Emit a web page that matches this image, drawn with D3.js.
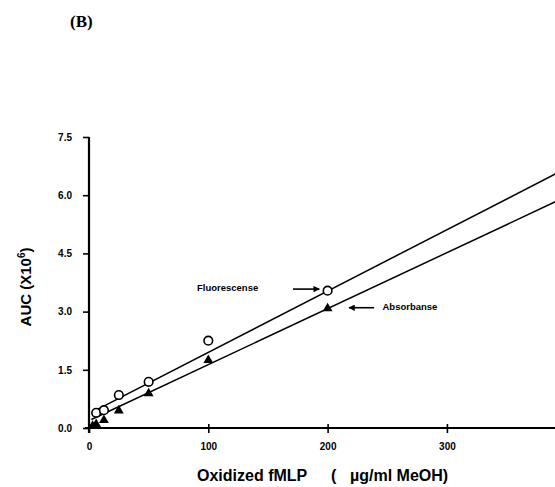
<!DOCTYPE html>
<html>
<head>
<meta charset="utf-8">
<script src="https://cdn.jsdelivr.net/npm/d3@7"></script>
<style>
  body { margin: 0; background: #fff; }
  text { font-family: Arial, "Liberation Sans", sans-serif; font-weight: bold; fill: #000; }
</style>
</head>
<body>
<div id="canvas"></div>
<script>
// concentrations (ug/ml MeOH)
const fluorX = [6, 12.5, 25, 50, 100, 200]
const fluorY = [0.39, 0.46, 0.85, 1.19, 2.25, 3.54]
const absorbX = [3, 6, 12.5, 25, 50, 100, 200]
const absorbY = [0.05, 0.1, 0.2, 0.45, 0.89, 1.75, 3.08]
// fitted lines: [slope, intercept, startX]
const fluorFit = [0.0158, 0.37, 3]
const absorbFit = [0.01443, 0.19, 2]
const yTicks = [0, 1.5, 3.0, 4.5, 6.0, 7.5]
const xTicks = [0, 100, 200, 300]

const canvasWidth = 555
const canvasHeight = 487
const margin = {top: 137, right: 0, bottom: 59, left: 89}
const width = canvasWidth - margin.left - margin.right
const height = canvasHeight - margin.top - margin.bottom

const svg = d3.select("#canvas")
    .append("svg")
    .attr("width", canvasWidth)
    .attr("height", canvasHeight)

svg.append("text")
    .attr("x", 70).attr("y", 27)
    .style("font-family", "'Liberation Serif', 'Times New Roman', serif")
    .style("font-size", "17px")
    .text("(B)")

const g = svg.append("g")
    .attr("transform", "translate(" + margin.left + "," + margin.top + ")")

const x = d3.scaleLinear().domain([0, 390.6]).range([0, width])
const y = d3.scaleLinear().domain([0, 7.5]).range([height, 0])

// clip for lines running off the right edge
g.append("clipPath").attr("id", "clip")
    .append("rect").attr("x", 0).attr("y", -20).attr("width", width).attr("height", height + 20)

const line = d3.line().x(d => x(d[0])).y(d => y(d[1]))
const fits = [fluorFit, absorbFit]
fits.forEach(f => {
    const pts = [[f[2], f[1] + f[0] * f[2]], [420, f[1] + f[0] * 420]]
    g.append("path")
        .attr("d", line(pts))
        .attr("clip-path", "url(#clip)")
        .attr("fill", "none")
        .attr("stroke", "#000")
        .attr("stroke-width", 1.5)
})

// axes
const xAxis = g.append("g")
    .attr("transform", "translate(0," + height + ")")
    .call(d3.axisBottom(x).tickValues(xTicks).tickSize(5).tickFormat(d3.format("d")))
const yAxis = g.append("g")
    .call(d3.axisLeft(y).tickValues(yTicks).tickSize(6).tickFormat(d3.format(".1f")))

;[xAxis, yAxis].forEach(a => {
    a.select(".domain").attr("stroke-width", 2.2)
    a.selectAll(".tick line").attr("stroke-width", 1.6)
    a.selectAll(".tick text")
        .style("font-size", "10px")
        .style("font-family", "Arial, 'Liberation Sans', sans-serif")
        .style("font-weight", "bold")
})
xAxis.select(".domain").attr("d", "M-4,0H" + width)
xAxis.selectAll(".tick line").attr("y1", -4)
xAxis.selectAll(".tick text").attr("dy", "1.35em")
yAxis.select(".domain").attr("d", "M0," + (height + 5) + "V0")
yAxis.selectAll(".tick text").attr("x", -17)

// markers
g.selectAll(".fl")
    .data(fluorX)
    .enter().append("circle")
    .attr("cx", d => x(d))
    .attr("cy", (d, i) => y(fluorY[i]))
    .attr("r", 4.3)
    .attr("fill", "#fff")
    .attr("stroke", "#000")
    .attr("stroke-width", 1.6)

g.selectAll(".ab")
    .data(absorbX)
    .enter().append("path")
    .attr("d", d3.symbol(d3.symbolTriangle, 42))
    .attr("transform", (d, i) => "translate(" + x(d) + "," + y(absorbY[i]) + ")")
    .attr("fill", "#000")

// annotations
g.append("defs").append("marker")
    .attr("id", "arr").attr("viewBox", "0 0 10 10")
    .attr("refX", 9).attr("refY", 5)
    .attr("markerWidth", 4).attr("markerHeight", 4)
    .attr("orient", "auto")
    .append("path").attr("d", "M0,0L10,5L0,10z").attr("fill", "#000")

const arrows = [[[171, 3.58], [193, 3.58]], [[239, 3.1], [218, 3.1]]]
arrows.forEach(a => {
    g.append("line")
        .attr("x1", x(a[0][0])).attr("y1", y(a[0][1]))
        .attr("x2", x(a[1][0])).attr("y2", y(a[1][1]))
        .attr("stroke", "#000").attr("stroke-width", 1.6)
        .attr("marker-end", "url(#arr)")
})
g.append("text")
    .attr("x", x(90.5)).attr("y", y(3.62)).attr("dy", "0.35em")
    .style("font-size", "9.5px")
    .text("Fluorescense")
g.append("text")
    .attr("x", x(246)).attr("y", y(3.12)).attr("dy", "0.35em")
    .style("font-size", "9.5px")
    .text("Absorbanse")

// axis titles
svg.append("text")
    .attr("transform", "translate(31,287) rotate(-90)")
    .attr("text-anchor", "middle")
    .style("font-size", "15px")
    .html("AUC (X10<tspan dy='-6' font-size='10px'>6</tspan><tspan dy='6'>)</tspan>")

const xTitle = svg.append("text").attr("y", 481).style("font-size", "16px")
xTitle.append("tspan").attr("x", 197).text("Oxidized fMLP")
xTitle.append("tspan").attr("x", 331).text("(")
xTitle.append("tspan").attr("x", 350).text("\u00b5g/ml MeOH)")
</script>
</body>
</html>
